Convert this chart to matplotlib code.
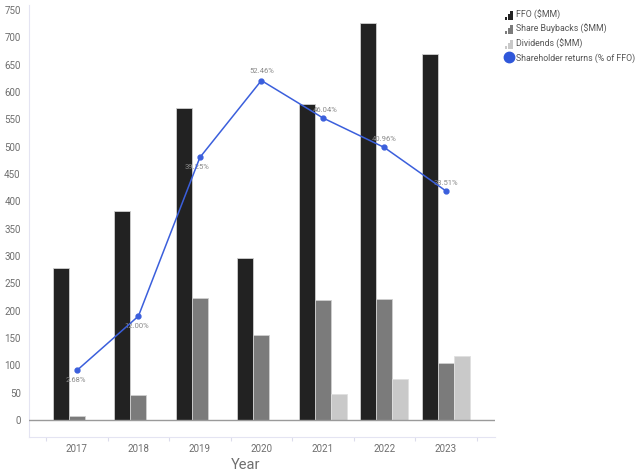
import numpy as np
import matplotlib.pyplot as plt
from matplotlib.legend_handler import HandlerBase
from matplotlib.patches import Rectangle
from matplotlib.lines import Line2D

plt.rcParams['font.family'] = ['Roboto', 'DejaVu Sans']

# data
years = ['2017', '2018', '2019', '2020', '2021', '2022', '2023']
ffo = [279, 383, 571, 297, 578, 726, 669]
buybacks = [7.5, 46, 224, 155, 219, 222, 105]
dividends = [0, 0, 0, 0, 47, 75, 118]
returns_pct = [2.68, 12.00, 39.25, 52.46, 46.04, 40.96, 33.51]
yticks = list(range(0, 800, 50))

c_ffo = '#222222'
c_buy = '#7b7b7b'
c_div = '#c9c9c9'
c_line = '#3b5fdc'


class BarIcon(HandlerBase):
    """little three-bar glyph like the reference legend"""
    def __init__(self, color):
        super().__init__()
        self.color = color

    def create_artists(self, legend, orig_handle, xdescent, ydescent,
                       width, height, fontsize, trans):
        bw = width / 3.4
        out = []
        for i, h in enumerate([0.4, 0.8, 1.2]):
            r = Rectangle((-xdescent + i * bw * 1.2, -ydescent - 1), bw, height * h,
                          facecolor=self.color, edgecolor='none', transform=trans)
            out.append(r)
        return out


fig = plt.figure(figsize=(6.4, 4.76), dpi=100)
ax = fig.add_axes([0.0453, 0.0819, 0.7281, 0.9085])

x = np.arange(len(years))
w = 0.26
ax.bar(x - w, ffo, w, color=c_ffo, edgecolor='#d0d0d0', linewidth=0.6, zorder=2)
ax.bar(x, buybacks, w, color=c_buy, edgecolor='#d0d0d0', linewidth=0.6, zorder=2)
ax.bar(x + w, dividends, w, color=c_div, edgecolor='#e0e0e0', linewidth=0.6, zorder=2)

ax.set_xlim(-0.78, 6.8)
ax.set_ylim(-31, 760)
ax.axhline(0, color='#9a9a9a', linewidth=1.0, zorder=3)

ax.set_yticks(yticks)
ax.set_xticks(x)
ax.set_xticklabels(years)
ax.set_xticks(np.arange(-0.5, 7, 1), minor=True)
ax.tick_params(axis='y', length=0, pad=6, labelsize=7, labelcolor='#6e6e6e')
ax.tick_params(axis='x', which='major', length=0, pad=5, labelsize=7, labelcolor='#6e6e6e')
ax.tick_params(axis='x', which='minor', length=3, color='#dcdcec', width=0.8)
for s in ['top', 'right']:
    ax.spines[s].set_visible(False)
ax.spines['left'].set_color('#e4e4f2')
ax.spines['bottom'].set_color('#e4e4f2')
ax.set_xlabel('Year', fontsize=10.5, color='#6e6e6e', labelpad=3)
ax.xaxis.label.set_position((0.465, 0))

# shareholder returns on hidden second axis
ax2 = ax.twinx()
ax2.set_ylim(-8.76, 65.5)
ax2.axis('off')
ax2.plot(x, returns_pct, color=c_line, linewidth=1.1, marker='o', markersize=3.5, zorder=4)
offsets = [(-1, -7), (-1, -7), (-2, -7), (0, 7), (2, 6), (0, 6), (0, 6)]
for xi, v, (dx, dy) in zip(x, returns_pct, offsets):
    ax2.annotate(f'{v:.2f}%', (xi, v), xytext=(dx, dy), textcoords='offset points',
                 ha='center', va='center', fontsize=5.5, color='#8a8a8a')

# legend
handles = [Rectangle((0, 0), 1, 1), Rectangle((0, 0), 1, 1), Rectangle((0, 0), 1, 1),
           Line2D([], [], linestyle='none', marker='o', markersize=7.5, color='#2f57da')]
labels = ['FFO ($MM)', 'Share Buybacks ($MM)', 'Dividends ($MM)', 'Shareholder returns (% of FFO)']
leg = fig.legend(handles, labels, loc='upper left', bbox_to_anchor=(0.783, 0.987),
                 frameon=False, fontsize=6.3, handlelength=0.95, handleheight=0.9,
                 handletextpad=0.3, labelspacing=0.5, borderaxespad=0,
                 handler_map={handles[0]: BarIcon(c_ffo), handles[1]: BarIcon(c_buy),
                              handles[2]: BarIcon(c_div)})
for t in leg.get_texts():
    t.set_color('#555555')

fig.savefig('out.png', dpi=100)
